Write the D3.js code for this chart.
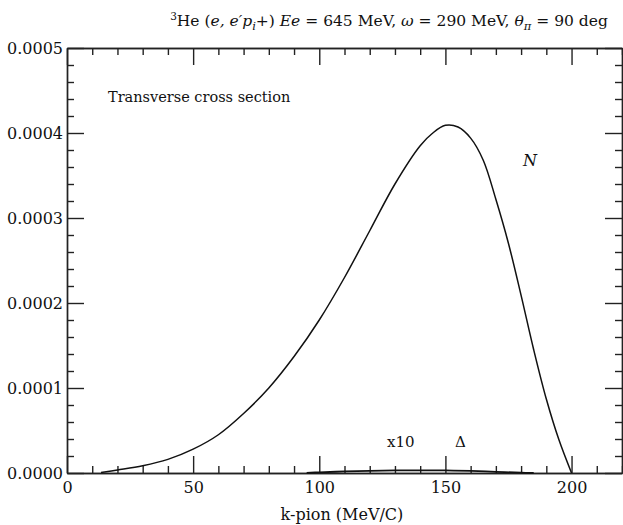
<!DOCTYPE html>
<html>
<head>
<meta charset="utf-8">
<script src="https://cdn.jsdelivr.net/npm/d3@7"></script>
<style>
  body { margin: 0; background: #fff; }
  svg text { font-family: 'DejaVu Serif', serif; }
</style>
</head>
<body>
<svg id="chart" width="623" height="525"></svg>
<script>
// transverse cross section, N (nucleon) curve
const kPion = [13.5, 20, 30, 40, 50, 60, 70, 80, 90, 100, 110, 120, 130, 140, 145, 150, 155, 160, 165, 170, 175, 180, 185, 190, 195, 200];
const crossN = [0.0000005, 0.0000035, 0.0000085, 0.000016, 0.000028, 0.000045, 0.00007, 0.0001, 0.000137, 0.00018, 0.00023, 0.000285, 0.00034, 0.000385, 0.0004, 0.000409, 0.000407, 0.000394, 0.000368, 0.000322, 0.00027, 0.000209, 0.000145, 0.000087, 0.000039, 0];

// delta curve (x10)
const kDelta = [95, 100, 110, 120, 130, 140, 150, 160, 170, 180, 185];
const crossDelta = [0.0000002, 0.0000008, 0.0000018, 0.0000026, 0.000003, 0.0000032, 0.000003, 0.0000024, 0.0000014, 0.0000004, 0];

const xMajor = [0, 50, 100, 150, 200];
const yMajor = [0, 0.0001, 0.0002, 0.0003, 0.0004, 0.0005];

const svg = d3.select("#chart");
const mLeft = 67, mRight = 622, mTop = 48, mBottom = 473;

const x = d3.scaleLinear().domain([0, 220]).range([mLeft, mRight]);
const y = d3.scaleLinear().domain([0, 0.0005]).range([mBottom, mTop]);

const xMinor = d3.range(0, 221, 10).filter(v => v % 50 !== 0);
const yMinor = d3.range(0, 26).map(i => i * 0.00002).filter((v, i) => i % 5 !== 0);

function styleAxis(g) {
  g.attr("font-family", null);
  g.selectAll("path, line").attr("stroke", "#222").attr("stroke-width", 1.4);
  g.selectAll("text").attr("fill", "#111").style("font-size", "16px");
}

// bottom
svg.append("g").attr("transform", `translate(0,${mBottom})`)
  .call(d3.axisBottom(x).tickValues(xMajor).tickSize(-17).tickSizeOuter(0).tickPadding(9).tickFormat(d3.format("d")))
  .call(styleAxis);
svg.append("g").attr("transform", `translate(0,${mBottom})`)
  .call(d3.axisBottom(x).tickValues(xMinor).tickSize(-7).tickSizeOuter(0).tickFormat(""))
  .call(styleAxis);
// top
svg.append("g").attr("transform", `translate(0,${mTop})`)
  .call(d3.axisTop(x).tickValues(xMajor).tickSize(-17).tickSizeOuter(0).tickFormat(""))
  .call(styleAxis);
svg.append("g").attr("transform", `translate(0,${mTop})`)
  .call(d3.axisTop(x).tickValues(xMinor).tickSize(-7).tickSizeOuter(0).tickFormat(""))
  .call(styleAxis);
// left
svg.append("g").attr("transform", `translate(${mLeft},0)`)
  .call(d3.axisLeft(y).tickValues(yMajor).tickSize(-17).tickSizeOuter(0).tickPadding(4).tickFormat(d3.format(".4f")))
  .call(styleAxis);
svg.append("g").attr("transform", `translate(${mLeft},0)`)
  .call(d3.axisLeft(y).tickValues(yMinor).tickSize(-7).tickSizeOuter(0).tickFormat(""))
  .call(styleAxis);
// right
svg.append("g").attr("transform", `translate(${mRight},0)`)
  .call(d3.axisRight(y).tickValues(yMajor).tickSize(-17).tickSizeOuter(0).tickFormat(""))
  .call(styleAxis);
svg.append("g").attr("transform", `translate(${mRight},0)`)
  .call(d3.axisRight(y).tickValues(yMinor).tickSize(-7).tickSizeOuter(0).tickFormat(""))
  .call(styleAxis);

const line = d3.line().x(d => x(d[0])).y(d => y(d[1])).curve(d3.curveCatmullRom.alpha(0.5));

svg.append("path")
  .datum(d3.zip(kPion, crossN))
  .attr("d", line)
  .attr("fill", "none")
  .attr("stroke", "#111")
  .attr("stroke-width", 1.5);

svg.append("path")
  .datum(d3.zip(kDelta, crossDelta))
  .attr("d", line)
  .attr("fill", "none")
  .attr("stroke", "#111")
  .attr("stroke-width", 1.8);

// title
const title = svg.append("text").attr("x", 389).attr("y", 26).attr("text-anchor", "middle")
  .style("font-size", "15.5px").attr("fill", "#111");
title.append("tspan").attr("dy", -6).style("font-size", "10.5px").text("3");
title.append("tspan").attr("dy", 6).text("He (");
title.append("tspan").style("font-style", "italic").text("e, e\u2032p");
title.append("tspan").attr("dy", 4).style("font-style", "italic").style("font-size", "11.5px").text("i");
title.append("tspan").attr("dy", -4).text("+) ");
title.append("tspan").style("font-style", "italic").text("Ee");
title.append("tspan").text(" = 645 MeV,  ");
title.append("tspan").style("font-style", "italic").text("\u03c9");
title.append("tspan").text(" = 290 MeV,  ");
title.append("tspan").style("font-style", "italic").text("\u03b8");
title.append("tspan").attr("dy", 4).style("font-style", "italic").style("font-size", "11.5px").text("\u03c0");
title.append("tspan").attr("dy", -4).text(" = 90 deg");

svg.append("text").attr("x", x(109)).attr("y", 520).attr("text-anchor", "middle")
  .style("font-size", "16px").attr("fill", "#111").text("k-pion (MeV/C)");

svg.append("text").attr("x", 108).attr("y", 102)
  .style("font-size", "14.5px").attr("fill", "#111").text("Transverse cross section");

svg.append("text").attr("x", 523).attr("y", 166)
  .style("font-size", "16px").style("font-style", "italic").attr("fill", "#111").text("N");

svg.append("text").attr("x", 387).attr("y", 447)
  .style("font-size", "15px").attr("fill", "#111").text("x10");

svg.append("text").attr("x", 455).attr("y", 447)
  .style("font-size", "15px").attr("fill", "#111").text("\u0394");
</script>
</body>
</html>
